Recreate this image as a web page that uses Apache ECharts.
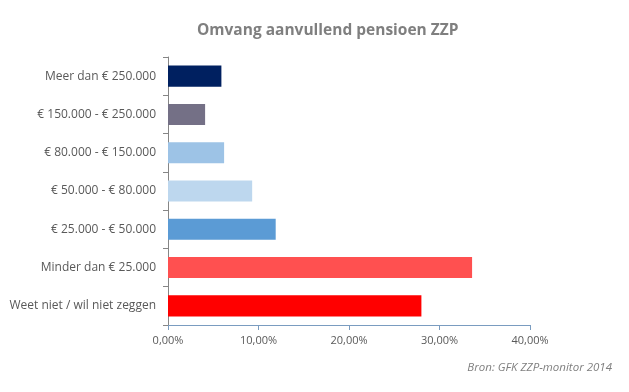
<!DOCTYPE html>
<html><head><meta charset="utf-8">
<script src="https://cdn.jsdelivr.net/npm/echarts@6/dist/echarts.min.js"></script>
<style>html,body{margin:0;padding:0;background:#fff}#c{width:629px;height:392px}</style>
</head><body><div id="c"></div>
<script>
const categories = ["Meer dan € 250.000","€ 150.000 - € 250.000","€ 80.000 - € 150.000","€ 50.000 - € 80.000","€ 25.000 - € 50.000","Minder dan € 25.000","Weet niet / wil niet zeggen"];
const values = [5.9, 4.1, 6.2, 9.3, 11.9, 33.6, 28.0];
const colors = ["#002060","#747086","#9DC3E6","#BDD7EE","#5B9BD5","#FF5050","#FF0000"];
const title = "Omvang aanvullend pensioen ZZP";
const source = "Bron: GFK ZZP-monitor 2014";

const chart = echarts.init(document.getElementById('c'));
chart.setOption({
  animation:false,
  title:{text:title,left:192,top:18,textStyle:{fontFamily:'Open Sans',fontWeight:'bold',fontSize:15.5,color:'#7F7F7F'}},
  graphic:[{type:'text',right:17,top:362,style:{text:source,font:'italic 11.5px "Open Sans"',fill:'#7F7F7F'}}],
  grid:{left:168,right:99,top:57,bottom:67},
  xAxis:{type:'value',min:0,max:40,interval:10,
    axisLine:{show:true,lineStyle:{color:'#7A9CC0'}},
    axisTick:{show:true,inside:false,length:5,lineStyle:{color:'#7A9CC0'}},
    splitLine:{show:false},
    axisLabel:{margin:10,fontFamily:'Open Sans',fontSize:11,color:'#595959',formatter:v=>v.toFixed(2).replace('.',',')+'%'}},
  yAxis:{type:'category',data:categories,inverse:true,
    axisLine:{show:true,lineStyle:{color:'#868686'}},
    axisTick:{show:true,length:5,lineStyle:{color:'#868686'}},
    axisLabel:{margin:12,fontFamily:'Open Sans',fontSize:12,color:'#595959'}},
  series:[{type:'bar',barCategoryGap:'45%',
    data:values.map((v,i)=>({value:v,itemStyle:{color:colors[i]}}))}]
});
</script></body></html>
